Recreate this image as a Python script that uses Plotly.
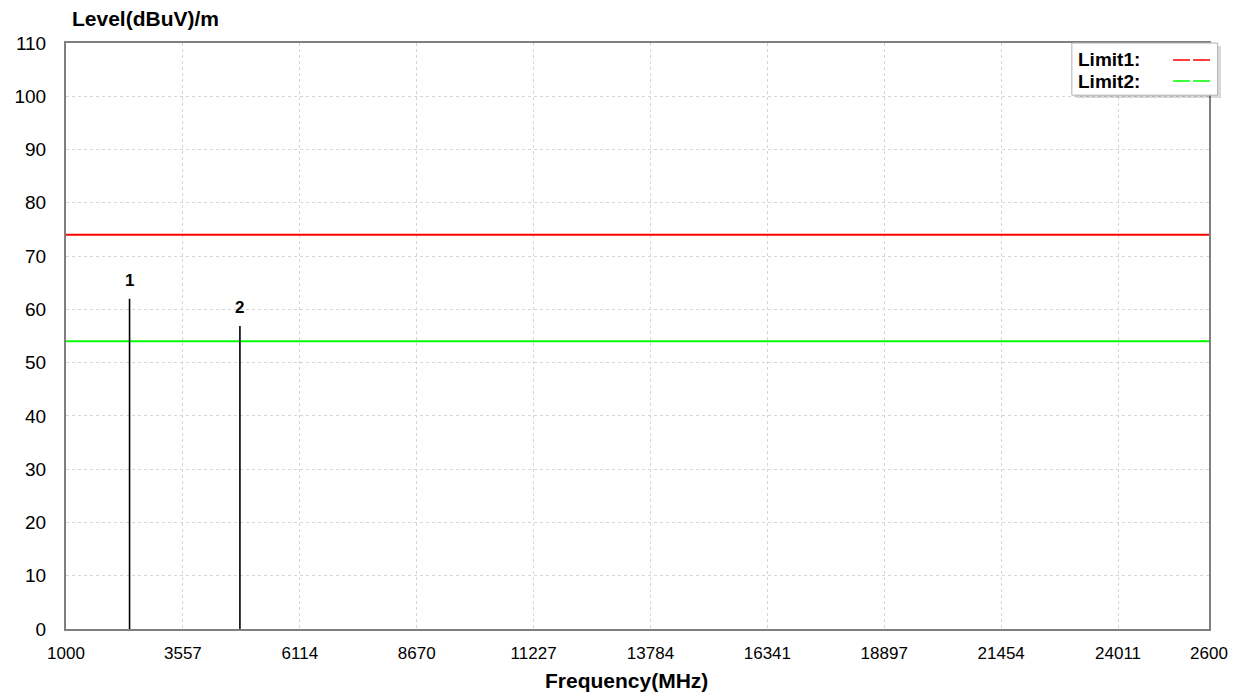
import plotly.graph_objects as go

# Frequency axis (MHz)
x_min, x_max = 1000, 26000
tick_vals = [1000, 3557, 6114, 8670, 11227, 13784, 16341, 18897, 21454, 24011, 26000]
tick_text = ["1000", "3557", "6114", "8670", "11227", "13784", "16341", "18897", "21454", "24011", "2600"]

# Level axis
y_ticks = [0, 10, 20, 30, 40, 50, 60, 70, 80, 90, 100, 110]

# Limit lines (dBuV/m)
limit_names = ["Limit1:", "Limit2:"]
limit_values = [74, 54]
limit_colors = ["#ff0000", "#00ff00"]

# Measured peaks
marker_ids = ["1", "2"]
marker_freqs = [2390, 4804]
marker_levels = [62.0, 56.9]

FONT = "Liberation Sans, Arial, sans-serif"

fig = go.Figure()

for name, val, col in zip(limit_names, limit_values, limit_colors):
    fig.add_trace(go.Scatter(
        x=[x_min, x_max], y=[val, val], mode="lines", name=name,
        line=dict(color=col, width=2), showlegend=False, hoverinfo="skip",
    ))

# vertical peak lines
for f, v in zip(marker_freqs, marker_levels):
    fig.add_trace(go.Scatter(
        x=[f, f], y=[0, v], mode="lines",
        line=dict(color="black", width=1.6), showlegend=False,
    ))

annotations = []
# peak numbers above each line
for mid, f, v in zip(marker_ids, marker_freqs, marker_levels):
    annotations.append(dict(x=f, y=v, xref="x", yref="y", text=mid, showarrow=False,
                            xanchor="center", yanchor="bottom", yshift=7,
                            font=dict(family=FONT, size=17, color="black", weight="bold")))

# Legend box drawn in paper space with dashed samples on the right
shapes = [
    dict(type="rect", xref="paper", yref="paper", x0=0.8835, x1=1.0105, y0=0.906, y1=0.995,
         fillcolor="rgba(0,0,0,0.15)", line=dict(width=0), layer="above"),
    dict(type="rect", xref="paper", yref="paper", x0=0.880, x1=1.0075, y0=0.911, y1=1.0,
         fillcolor="white", line=dict(color="#b0b0b0", width=1), layer="above"),
]
legend_y = [0.971, 0.935]
for name, col, ly in zip(limit_names, limit_colors, legend_y):
    shapes.append(dict(type="line", xref="paper", yref="paper", x0=0.9685, x1=1.0035,
                       y0=ly, y1=ly, line=dict(color=col, width=1.5, dash="17px,3px"),
                       layer="above"))
    annotations.append(dict(xref="paper", yref="paper", x=0.8835, y=ly, text=name,
                            showarrow=False, xanchor="left", yanchor="middle",
                            font=dict(family=FONT, size=19, color="black", weight="bold")))

annotations.append(dict(xref="paper", yref="paper", x=0.0035, y=1.0, yshift=25,
                        text="Level(dBuV)/m", showarrow=False, xanchor="left",
                        yanchor="middle",
                        font=dict(family=FONT, size=21, color="black", weight="bold")))
annotations.append(dict(xref="paper", yref="paper", x=0.49, y=0.0, yshift=-51,
                        text="Frequency(MHz)", showarrow=False, xanchor="center",
                        yanchor="middle",
                        font=dict(family=FONT, size=21, color="black", weight="bold")))

fig.update_layout(
    width=1240, height=696,
    margin=dict(l=66, r=31, t=43, b=67),
    paper_bgcolor="white", plot_bgcolor="white",
    font=dict(family=FONT, size=16, color="black"),
    shapes=shapes, annotations=annotations,
    showlegend=False,
)

fig.update_xaxes(
    range=[x_min, x_max], tickmode="array", tickvals=tick_vals, ticktext=tick_text,
    showgrid=True, gridcolor="#d6d6d6", griddash="dot", gridwidth=1,
    showline=True, linecolor="#7f7f7f", linewidth=2, mirror=True,
    ticks="", zeroline=False, ticklabelstandoff=8,
    tickfont=dict(family=FONT, size=17, color="black"),
)
fig.update_yaxes(
    range=[0, 110], tickmode="array", tickvals=y_ticks,
    showgrid=True, gridcolor="#d6d6d6", griddash="dot", gridwidth=1,
    showline=True, linecolor="#7f7f7f", linewidth=2, mirror=True,
    ticks="", zeroline=False, ticklabelstandoff=14,
    tickfont=dict(family=FONT, size=19, color="black"),
)

fig.write_html("out.html")
